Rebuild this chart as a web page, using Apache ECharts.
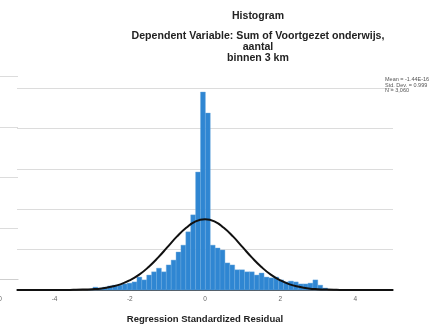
<!DOCTYPE html>
<html>
<head>
    <meta charset="utf-8" />
    <title>Histogram</title>
    <script src="https://cdn.jsdelivr.net/npm/echarts@6.0.0/dist/echarts.min.js"></script>
    <style>
        html, body { margin: 0; padding: 0; background: #fff; }
    </style>
</head>
<body>
    <div id="main" style="width: 446px;height:329px;"></div>
    <script type="text/javascript">
        // histogram bins: left edge of first bin, width, and frequencies
        var binStart = -3.11;
        var binWidth = 0.13;
        var counts = [2, 7, 5, 7, 10, 12, 12, 15, 17, 20, 32, 25, 37, 45, 54, 45, 62, 74, 94, 111, 144, 186, 292,
            490,
            438, 111, 104, 99, 67, 62, 50, 50, 45, 45, 37, 42, 32, 30, 32, 25, 20, 22, 20, 15, 15, 17, 25, 12, 5];

        // normal curve
        var curveX = [-5, -4.5, -4, -3.75, -3.5, -3.25, -3, -2.75, -2.5, -2.25, -2, -1.75, -1.5, -1.25, -1, -0.75, -0.5, -0.25, 0,
            0.25, 0.5, 0.75, 1, 1.25, 1.5, 1.75, 2, 2.25, 2.5, 2.75, 3, 3.25, 3.5, 3.75, 4, 4.5, 5];
        var curveY = [0, 0, 0, 0, 0.4, 1, 2, 4, 8, 14, 24, 38, 57, 80, 106, 132, 154, 170, 175,
            170, 154, 132, 106, 80, 57, 38, 24, 14, 8, 4, 2, 1, 0.4, 0, 0, 0, 0];

        var xTicks = [-4, -2, 0, 2, 4];
        var statsText = ['Mean = -1.44E-16', 'Std. Dev. = 0.999', 'N = 3,060'];

        var FONT = 'Liberation Sans, Arial, sans-serif';

        var barData = counts.map(function (c, i) {
            return [binStart + i * binWidth, binStart + (i + 1) * binWidth, c];
        });
        var curveData = curveX.map(function (x, i) { return [x, curveY[i]]; });

        var myChart = echarts.init(document.getElementById('main'));

        var option = {
            animation: false,
            backgroundColor: '#fff',
            textStyle: { fontFamily: FONT },
            title: [
                {
                    text: 'Histogram',
                    left: 253, top: 5.5, padding: 5, textAlign: 'center',
                    textStyle: { fontSize: 10.5, fontWeight: 'bold', color: '#222', fontFamily: FONT }
                },
                {
                    text: 'Dependent Variable: Sum of Voortgezet onderwijs,\naantal\nbinnen 3 km',
                    left: 253, top: 25.5, padding: 5, textAlign: 'center',
                    textStyle: { fontSize: 10.6, fontWeight: 'bold', color: '#222', lineHeight: 11, fontFamily: FONT }
                },
                {
                    text: statsText.join('\n'),
                    left: 385, top: 77, padding: 0,
                    textStyle: { fontSize: 5.5, fontWeight: 'normal', color: '#555', lineHeight: 5.5, fontFamily: FONT }
                }
            ],
            grid: [
                { left: 17, right: 53, top: 88, bottom: 39, outerBoundsMode: 'none' },
                { left: 0, width: 18, top: 76, bottom: 50, outerBoundsMode: 'none' }
            ],
            xAxis: [
                {
                    gridIndex: 0,
                    type: 'value',
                    min: -5, max: 5, interval: 1,
                    name: 'Regression Standardized Residual',
                    nameLocation: 'middle',
                    nameGap: 24,
                    nameTextStyle: { fontSize: 9.5, fontWeight: 'bold', color: '#222', fontFamily: FONT },
                    axisLine: { lineStyle: { color: '#222', width: 1.6 } },
                    axisTick: { show: false },
                    splitLine: { show: false },
                    axisLabel: {
                        fontSize: 6.5, color: '#666', margin: 6,
                        formatter: function (v) { return xTicks.indexOf(v) >= 0 ? String(v) : ''; }
                    }
                },
                {
                    gridIndex: 1,
                    type: 'value',
                    min: 0, max: 1, interval: 1,
                    offset: 11,
                    axisLine: { lineStyle: { color: '#cfcfcf', width: 1.2 } },
                    axisTick: { show: false },
                    splitLine: { show: false },
                    axisLabel: {
                        fontSize: 6.5, color: '#666', margin: 6,
                        formatter: function (v) { return v === 0 ? '0' : ''; }
                    }
                }
            ],
            yAxis: [
                {
                    gridIndex: 0,
                    type: 'value',
                    min: 0, max: 500, interval: 100,
                    axisLine: { show: false },
                    axisTick: { show: false },
                    axisLabel: { show: false },
                    splitLine: { lineStyle: { color: '#dcdcdc', width: 1 } }
                },
                {
                    gridIndex: 1,
                    type: 'value',
                    min: 0, max: 4, interval: 1,
                    axisLine: { show: false },
                    axisTick: { show: false },
                    axisLabel: { show: false },
                    splitLine: { lineStyle: { color: '#dcdcdc', width: 1 } }
                }
            ],
            series: [
                {
                    type: 'custom',
                    xAxisIndex: 0, yAxisIndex: 0,
                    data: barData,
                    encode: { x: [0, 1], y: 2 },
                    itemStyle: { color: '#2f86d2', borderColor: '#6aa9df', borderWidth: 0.4 },
                    renderItem: function (params, api) {
                        var p0 = api.coord([api.value(0), api.value(2)]);
                        var p1 = api.coord([api.value(1), 0]);
                        return {
                            type: 'rect',
                            shape: { x: p0[0], y: p0[1], width: p1[0] - p0[0], height: p1[1] - p0[1] },
                            style: api.style()
                        };
                    },
                    z: 2
                },
                {
                    type: 'line',
                    xAxisIndex: 0, yAxisIndex: 0,
                    data: curveData,
                    smooth: true,
                    showSymbol: false,
                    lineStyle: { color: '#111', width: 2 },
                    z: 3
                }
            ]
        };

        myChart.setOption(option);
    </script>
</body>
</html>
